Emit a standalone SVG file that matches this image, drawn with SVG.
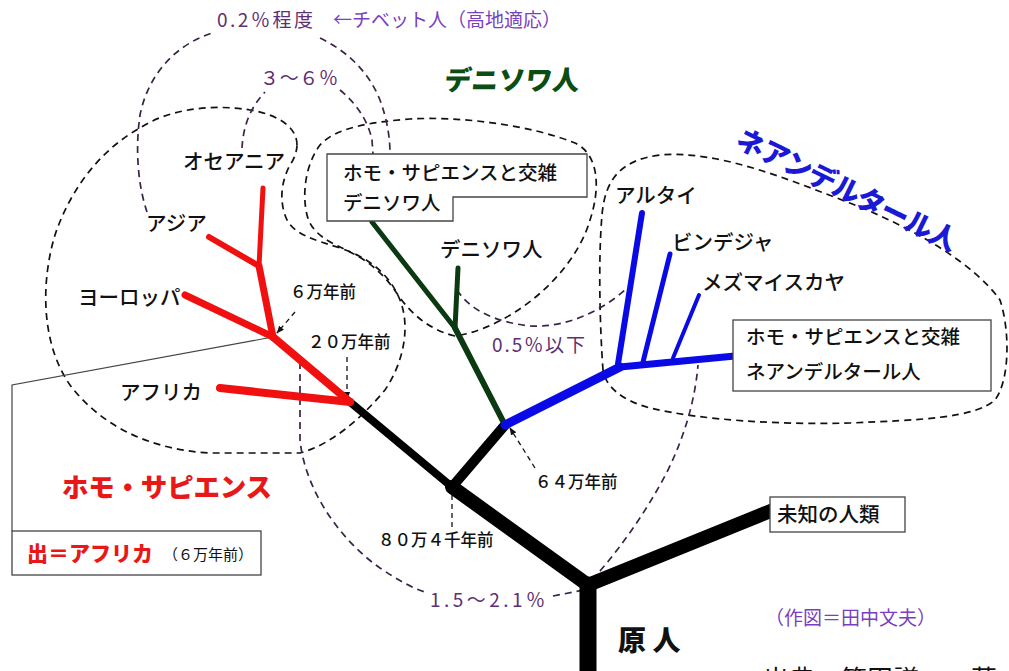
<svg xmlns="http://www.w3.org/2000/svg" width="1009" height="671" viewBox="0 0 1009 671">
<style>
.t{font-family:"Noto Sans CJK JP","Noto Sans",sans-serif;fill:#111;}
.lbl{font-size:20.5px;font-weight:500;}
.bx{font-size:19.5px;font-weight:500;}
.tm{font-size:16.5px;font-weight:500;}
.pc{font-size:19px;fill:#5e2f72;}
.pu{font-size:19px;fill:#7a3fc0;}
.bt{font-weight:900;}
.reg{fill:none;stroke:#111;stroke-width:1.7;stroke-dasharray:7 5;}
.lp{fill:none;stroke:#3a2346;stroke-width:1.7;stroke-dasharray:7 5;}
.ptr{fill:none;stroke:#111;stroke-width:1.3;stroke-dasharray:5 4;}
.br{fill:none;stroke-linecap:round;}
.k{stroke:#000;}
.r{stroke:#f01010;}
.g{stroke:#0b3a12;}
.b{stroke:#0a0ae6;}
.box{fill:#fff;stroke:#444;stroke-width:1.3;}
</style>
<defs>
<marker id="arr" viewBox="0 0 10 10" refX="9" refY="5" markerWidth="6" markerHeight="6" orient="auto-start-reverse">
<path d="M0,1 L10,5 L0,9 Z" fill="#111"/>
</marker>
</defs>
<rect width="1009" height="671" fill="#fff"/>

<g id="regions">
<path id="sapiens-region" class="reg" d="M297,145 C297,128 280,115 250,110 C215,104 170,108 140,128 C100,150 70,190 55,235 C40,285 42,345 70,385 C100,425 150,450 210,453 L300,453 C330,445 360,420 385,390 C405,360 410,325 400,300 C390,275 370,258 340,248 C315,240 295,235 287,220 C278,200 282,180 290,165 C295,158 297,150 297,145 Z"/>
<path id="denisova-region" class="reg" d="M455,336 C430,330 412,315 398,295 C385,275 370,262 350,252 C330,242 312,235 307,215 C302,195 305,165 320,145 C335,128 370,122 410,119 C460,116 530,125 575,143 C600,155 600,190 590,220 C580,255 550,290 515,312 C495,325 472,334 455,336 Z"/>
<path id="neanderthal-region" class="reg" d="M603,370 C600,330 598,260 602,215 C605,180 620,160 660,155 C720,150 790,180 860,207 C920,232 975,265 1000,300 C1010,330 1010,380 995,400 C975,418 920,420 850,423 C780,425 700,420 650,408 C620,400 605,385 603,370 Z"/>
</g>

<g id="connectors">
<path class="lp" d="M147,212 C138,185 135,150 140,115 C148,75 175,45 212,33"/>
<path class="lp" d="M320,38 C345,50 368,70 380,100 C388,122 390,140 390,154"/>
<path class="lp" d="M242,148 C243,130 248,110 265,92"/>
<path class="lp" d="M340,90 C355,102 368,120 372,140 L373,154"/>
<path class="lp" d="M457,290 C470,310 495,322 530,326 C565,328 600,312 625,290"/>
<path class="lp" d="M300,362 L300,440 C305,490 340,540 380,568 C398,580 412,588 425,592"/>
<path class="lp" d="M553,596 L584,590"/>
<path class="lp" d="M592,580 C615,555 645,515 668,470 C685,435 695,400 698,365"/>
<path class="ptr" marker-end="url(#arr)" d="M295,312 L277,333"/>
<path class="ptr" marker-end="url(#arr)" d="M347,357 L347,399"/>
<path class="ptr" marker-end="url(#arr)" d="M535,468 L510,428"/>
<path class="ptr" d="M452,495 L452,528"/>
<polyline points="273,337 12,385 12,531" fill="none" stroke="#444" stroke-width="1.2"/>
</g>

<g id="tree">
<line class="br k" x1="588" y1="585" x2="588" y2="671" stroke-width="17"/>
<line class="br k" x1="588" y1="585" x2="778" y2="508" stroke-width="14"/>
<line class="br k" x1="588" y1="585" x2="452" y2="487" stroke-width="14"/>
<line class="br k" x1="452" y1="487" x2="350" y2="402" stroke-width="8"/>
<line class="br k" x1="452" y1="487" x2="505" y2="425" stroke-width="10"/>
<line class="br r" x1="350" y1="402" x2="273" y2="337" stroke-width="8"/>
<line class="br r" x1="350" y1="402" x2="220" y2="388" stroke-width="8"/>
<line class="br r" x1="273" y1="337" x2="185" y2="295" stroke-width="7"/>
<line class="br r" x1="273" y1="337" x2="259" y2="266" stroke-width="7"/>
<line class="br r" x1="259" y1="266" x2="209" y2="237" stroke-width="6"/>
<line class="br r" x1="259" y1="266" x2="263" y2="188" stroke-width="5"/>
<line class="br g" x1="505" y1="425" x2="455" y2="328" stroke-width="6"/>
<line class="br g" x1="455" y1="328" x2="372" y2="222" stroke-width="5"/>
<line class="br g" x1="455" y1="328" x2="458" y2="268" stroke-width="5"/>
<line class="br b" x1="505" y1="425" x2="620" y2="367" stroke-width="9"/>
<line class="br b" x1="620" y1="367" x2="735" y2="356" stroke-width="7"/>
<line class="br b" x1="618" y1="364" x2="642" y2="213" stroke-width="6"/>
<line class="br b" x1="643" y1="362" x2="670" y2="254" stroke-width="5"/>
<line class="br b" x1="673" y1="358" x2="699" y2="295" stroke-width="4"/>
</g>

<g id="titles">
<text class="t pc" x="217" y="27" textLength="96">0.2％程度</text>
<text class="t pu" x="333" y="27">←チベット人（高地適応）</text>
<text class="t pc" x="260" y="85" textLength="78">３～６％</text>
<text class="t bt" x="444" y="90" font-size="27" style="fill:#0b4d12" transform="skewX(-6) translate(9,0)">デニソワ人</text>
<text class="t bt" x="0" y="0" font-size="28" style="fill:#1a1ad6" transform="translate(734,146) rotate(26)" textLength="242">ネアンデルタール人</text>
<text class="t bt" x="62" y="497" font-size="26.5" style="fill:#e81818" textLength="210">ホモ・サピエンス</text>
<text class="t pc" x="492" y="352" textLength="93">0.5％以下</text>
<text class="t pc" x="430" y="607" textLength="115">1.5～2.1％</text>
<text class="t pu" x="765" y="625">（作図＝田中文夫）</text>
<text class="t bt" x="618" y="651" font-size="28">原 人</text>
<text class="t" x="763" y="689" font-size="26">出典　篠田謙一　著</text>
</g>

<g id="n-oceania"><text class="t lbl" x="183" y="169">オセアニア</text></g>
<g id="n-asia"><text class="t lbl" x="146" y="231">アジア</text></g>
<g id="n-europe"><text class="t lbl" x="78" y="305">ヨーロッパ</text></g>
<g id="n-africa"><text class="t lbl" x="120" y="400">アフリカ</text></g>
<g id="n-denisova"><text class="t lbl" x="440" y="257">デニソワ人</text></g>
<g id="n-altai"><text class="t lbl" x="615" y="203">アルタイ</text></g>
<g id="n-vindija"><text class="t lbl" x="672" y="250">ビンデジャ</text></g>
<g id="n-mezmai"><text class="t lbl" x="702" y="290">メズマイスカヤ</text></g>

<g id="n-den-hybrid">
<path class="box" d="M327,154 H587 V197 H453 V221 H327 Z"/>
<text class="t bx" x="343" y="180">ホモ・サピエンスと交雑</text>
<text class="t bx" x="343" y="210">デニソワ人</text>
</g>
<g id="n-nea-hybrid">
<rect class="box" x="733" y="320" width="258" height="71"/>
<text class="t bx" x="746" y="344">ホモ・サピエンスと交雑</text>
<text class="t bx" x="746" y="379">ネアンデルタール人</text>
</g>
<g id="n-unknown">
<rect class="box" x="770" y="497" width="135" height="35"/>
<text class="t lbl" x="777" y="522">未知の人類</text>
</g>
<g id="n-out-of-africa">
<rect class="box" x="12" y="531" width="249" height="44"/>
<text class="t bt" x="27" y="561" font-size="21" style="fill:#e81818">出＝アフリカ</text>
<text class="t" x="163" y="560" font-size="15">（６万年前）</text>
</g>

<g id="time-labels">
<text class="t tm" x="290" y="298">６万年前</text>
<text class="t tm" x="308" y="348">２０万年前</text>
<text class="t tm" x="535" y="488">６４万年前</text>
<text class="t tm" x="378" y="546">８０万４千年前</text>
</g>
</svg>
